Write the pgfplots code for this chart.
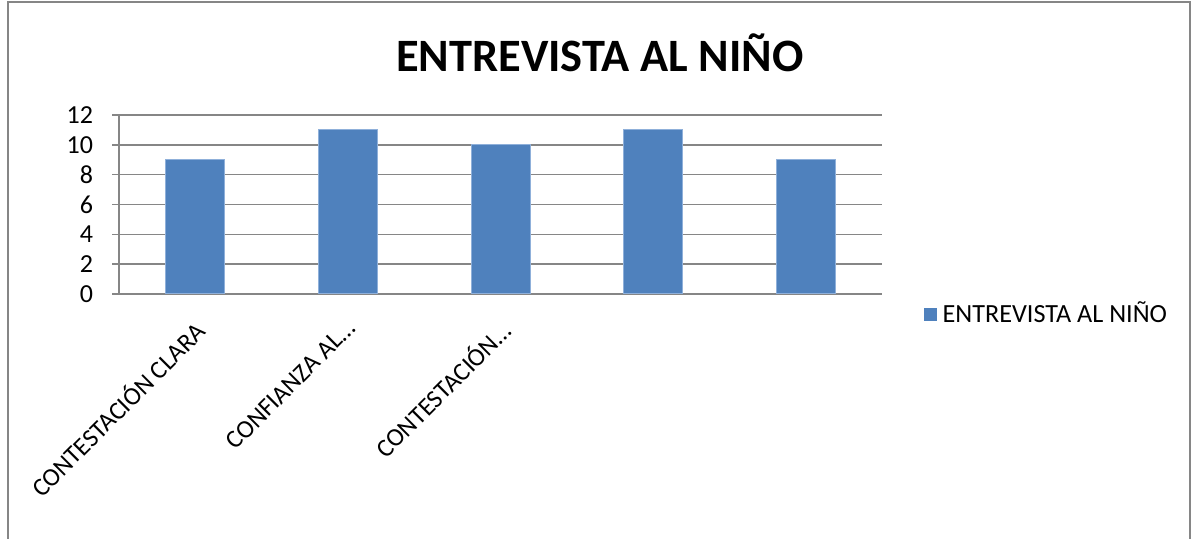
\documentclass[border=0pt]{standalone}
\usepackage{pgfplots}
\pgfplotsset{compat=1.18}
\usepackage{fontspec}
\setmainfont{Carlito}
\definecolor{barblue}{HTML}{4F81BD}
\definecolor{baredge}{HTML}{8FB0DA}
\definecolor{gridgray}{HTML}{868686}
\begin{document}
\begin{tikzpicture}
\path (0,0) rectangle (596pt,269.5pt);
\draw[gridgray, line width=0.8pt] (4pt,0pt) -- (4pt,268.5pt) -- (595pt,268.5pt) -- (595pt,0pt);
\begin{axis}[
  at={(59.5pt,122.5pt)}, anchor=south west,
  width=381.5pt, height=89.5pt, scale only axis,
  ymin=0, ymax=12, ytick={0,2,4,6,8,10,12},
  xmin=-0.5, xmax=4.5,
  xtick={0,1,2,3,4},
  xticklabels={{CONTESTACIÓN CLARA}, {CONFIANZA AL…}, {CONTESTACIÓN…}, {}, {}},
  major x tick style={draw=none},
  extra x ticks={-0.5,0.5,1.5,2.5,3.5,4.5},
  extra x tick labels={},
  extra x tick style={tick style={draw=gridgray, line width=0.8pt}, major tick length=4pt, tick align=outside, grid=none},
  axis x line*=bottom, axis y line*=left,
  axis line style={draw=gridgray, line width=0.8pt, -},
  ymajorgrids, grid style={draw=gridgray, line width=0.8pt},
  ytick style={draw=gridgray, line width=0.8pt},
  tick align=outside, major tick length=3.5pt,
  yticklabel style={font=\fontsize{13}{13}\selectfont, xshift=-6pt},
  xticklabel style={font=\fontsize{12.7}{14}\selectfont, rotate=45, anchor=north east, inner sep=1pt, xshift=-6pt, yshift=-3.9pt},
  /pgf/number format/assume math mode=true,
  ybar, bar width=29.5pt,
  title={\textbf{ENTREVISTA AL NIÑO}},
  title style={font=\fontsize{23.2}{24}\selectfont, at={(axis description cs:0.63,1.28)}, anchor=center},
  legend style={at={(axis description cs:1.054,-0.112)}, anchor=west, draw=none, font=\fontsize{13.1}{14}\selectfont, inner sep=0pt},
  legend image code/.code={\fill[barblue] (0pt,-3pt) rectangle (6pt,3pt);},
  legend cell align=left,
  clip=false,
]
\addplot[fill=barblue, draw=baredge, line width=0.5pt] coordinates {(0,9) (1,11) (2,10) (3,11) (4,9)};
\addlegendentry{\hspace{1pt}ENTREVISTA AL NIÑO}
\end{axis}
\end{tikzpicture}
\end{document}
